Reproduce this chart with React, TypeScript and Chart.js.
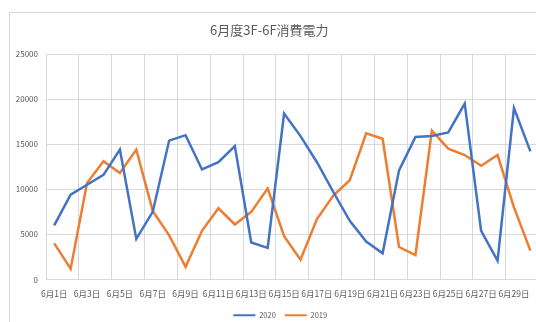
import React, { useEffect, useRef } from "react";
import { Chart, registerables } from "chart.js";

Chart.register(...registerables);

// 6月の日付（カテゴリ）
const days = [
  "6月1日", "6月2日", "6月3日", "6月4日", "6月5日", "6月6日", "6月7日", "6月8日", "6月9日", "6月10日",
  "6月11日", "6月12日", "6月13日", "6月14日", "6月15日", "6月16日", "6月17日", "6月18日", "6月19日", "6月20日",
  "6月21日", "6月22日", "6月23日", "6月24日", "6月25日", "6月26日", "6月27日", "6月28日", "6月29日", "6月30日",
];

// 3F-6F 日別消費電力
const power2020 = [
  6000, 9400, 10500, 11600, 14400, 4500, 7500, 15400, 16000, 12200,
  13000, 14800, 4100, 3500, 18400, 15900, 13000, 9700, 6500, 4200,
  2900, 12100, 15800, 15900, 16300, 19500, 5400, 2100, 19000, 14200,
];
const power2019 = [
  4000, 1200, 10700, 13100, 11800, 14400, 7600, 4900, 1400, 5400,
  7900, 6100, 7500, 10100, 4800, 2200, 6700, 9300, 11000, 16200,
  15600, 3600, 2700, 16500, 14500, 13800, 12600, 13800, 8000, 3200,
];

const seriesNames = ["2020", "2019"];
const yTicks = [0, 5000, 10000, 15000, 20000, 25000];

const titleText = "6月度3F-6F消費電力";

const BLUE = "#4472C4";
const ORANGE = "#ED7D31";
const GRID = "#d9d9d9";
const TEXT = "#595959";
const FONT = '"Noto Sans CJK JP", "Noto Sans", sans-serif';

// 凡例を作図領域の中央寄りに少し移動する
const legendShift = {
  id: "legendShift",
  afterLayout(chart: any) {
    const lg = chart.legend;
    if (lg) {
      lg.left += 11;
      lg.right += 11;
    }
  },
};

export default function App() {
  const canvasRef = useRef<HTMLCanvasElement | null>(null);

  useEffect(() => {
    const canvas = canvasRef.current;
    if (!canvas) return;
    const chart = new Chart(canvas, {
      type: "line",
      data: {
        labels: days,
        datasets: [
          {
            label: seriesNames[0],
            data: power2020,
            borderColor: BLUE,
            backgroundColor: BLUE,
            borderWidth: 2.5,
            pointRadius: 0,
            tension: 0,
          },
          {
            label: seriesNames[1],
            data: power2019,
            borderColor: ORANGE,
            backgroundColor: ORANGE,
            borderWidth: 2.5,
            pointRadius: 0,
            tension: 0,
          },
        ],
      },
      options: {
        responsive: false,
        animation: false,
        devicePixelRatio: 1,
        layout: { padding: { top: 22.2, left: 0, right: 3.4, bottom: 0 } },
        scales: {
          x: {
            type: "category",
            offset: true,
            grid: {
              offset: true,
              drawTicks: false,
              color: (ctx: any) => (ctx.index % 2 === 0 ? GRID : "rgba(0,0,0,0)"),
              lineWidth: 1,
            },
            border: { color: GRID },
            ticks: {
              autoSkip: false,
              maxRotation: 0,
              minRotation: 0,
              padding: 9,
              color: TEXT,
              font: { family: FONT, size: 8.5 },
              callback: (_v: any, i: number) => (i % 2 === 0 ? days[i] : ""),
            },
            afterFit: (scale: any) => {
              scale.height = 23;
            },
          },
          y: {
            min: yTicks[0],
            max: yTicks[yTicks.length - 1],
            grid: { color: GRID, drawTicks: false },
            border: { display: false },
            afterBuildTicks: (scale: any) => {
              scale.ticks = yTicks.map((v) => ({ value: v }));
            },
            ticks: {
              padding: 8,
              color: TEXT,
              font: { family: FONT, size: 8 },
              callback: (v: any) => String(v),
            },
            afterFit: (scale: any) => {
              scale.width = 46;
            },
          },
        },
        plugins: {
          title: {
            display: true,
            text: titleText,
            color: TEXT,
            font: { family: FONT, size: 13, weight: "normal" },
            padding: { top: 0, bottom: 16.2 },
          },
          legend: {
            display: true,
            position: "bottom",
            labels: {
              color: TEXT,
              font: { family: FONT, size: 7.5 },
              boxWidth: 22,
              boxHeight: 2,
              padding: 9,
              generateLabels: (c: any) =>
                Chart.defaults.plugins.legend.labels
                  .generateLabels(c)
                  .map((item: any) => ({ ...item, lineWidth: 0 })),
            },
          },
          tooltip: { enabled: false },
        },
      },
      plugins: [legendShift],
    } as any);
    return () => chart.destroy();
  }, []);

  return (
    <div
      style={{
        position: "fixed",
        left: 0,
        top: 0,
        width: 536,
        height: 322,
        overflow: "hidden",
        background: "#ffffff",
      }}
    >
      <div
        style={{
          position: "absolute",
          left: 9,
          top: 12,
          width: 560,
          height: 340,
          borderLeft: "1px solid #d9d9d9",
          borderTop: "1px solid #d9d9d9",
        }}
      />
      <canvas
        ref={canvasRef}
        width={542}
        height={329}
        style={{ position: "absolute", left: 0, top: 0, width: 542, height: 329 }}
      />
    </div>
  );
}
